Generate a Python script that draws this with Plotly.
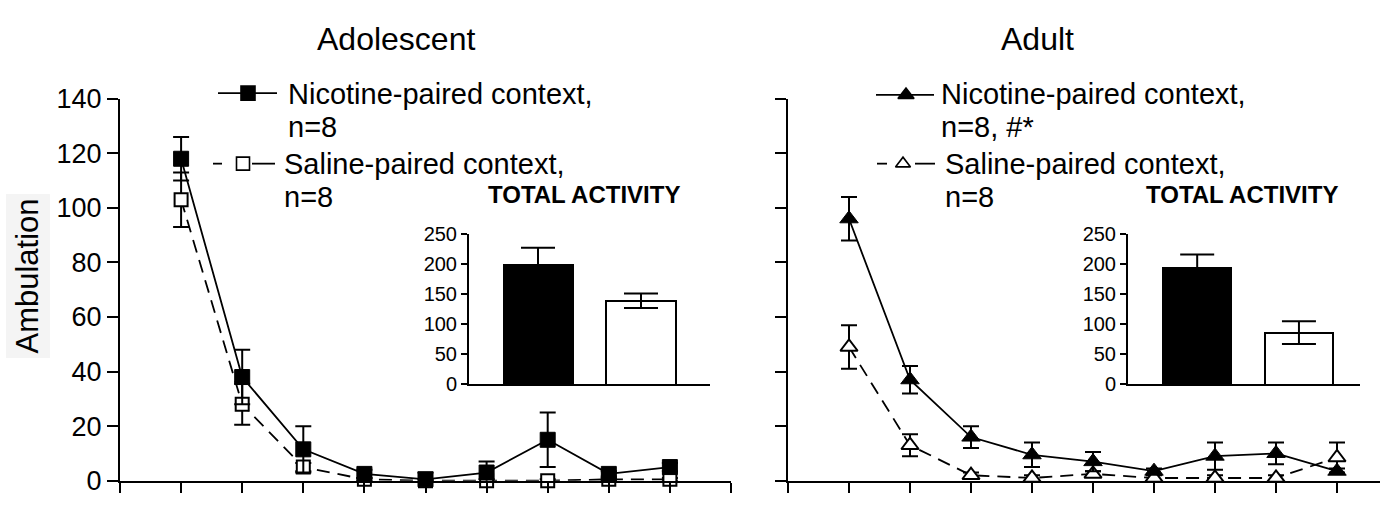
import plotly.graph_objects as go

# ---- data -------------------------------------------------------------
bins = [1, 2, 3, 4, 5, 6, 7, 8, 9]

adol_nic = [118, 38, 11.5, 2.5, 0.5, 3, 15, 2.5, 5]
adol_nic_sem = [8, 10, 8.5, 1.5, 2.5, 4, 10, 1, 1.5]
adol_sal = [103, 28, 5, 0.5, 0, 0, 0, 0.5, 0.5]
adol_sal_sem = [10, 7.5, 1.5, 0.5, 0.5, 0.5, 0.5, 0.5, 0.5]

adult_nic = [96, 37, 16, 9.5, 7, 3.5, 9, 10, 3.5]
adult_nic_sem = [8, 5, 4, 4.5, 3.5, 1, 5, 4, 1]
adult_sal = [49, 13, 2, 1, 2.5, 1, 1, 1, 8.5]
adult_sal_sem = [8, 4, 1, 1, 1, 1, 1, 1, 5.5]

groups = [0, 1]
adol_total = [198, 139]
adol_total_sem = [29, 12]
adult_total = [193, 86]
adult_total_sem = [23, 19]

y_ticks = [0, 20, 40, 60, 80, 100, 120, 140]
inset_ticks = [0, 50, 100, 150, 200, 250]

# ---- geometry helpers -------------------------------------------------
W, H = 1380, 507
FONT = "Liberation Sans, Arial, sans-serif"


def fx(px):
    return px / W


def fy(py):
    return 1 - py / H


fig = go.Figure()

err = dict(type="data", visible=True, color="black", thickness=2, width=8)
dash_pat = "13px,8px"


def line_pair(xa, ya, nic, nic_sem, sal, sal_sem, filled, hollow):
    fig.add_trace(go.Scatter(
        x=bins, y=sal, xaxis=xa, yaxis=ya, mode="lines+markers",
        line=dict(color="black", width=1.8, dash=dash_pat),
        marker=dict(symbol=hollow[0], size=hollow[1], color="white",
                    line=dict(color="black", width=2)),
        error_y=dict(array=sal_sem, **err),
        cliponaxis=False, showlegend=False, hoverinfo="skip"))
    fig.add_trace(go.Scatter(
        x=bins, y=nic, xaxis=xa, yaxis=ya, mode="lines+markers",
        line=dict(color="black", width=1.8),
        marker=dict(symbol=filled[0], size=filled[1], color="black",
                    line=dict(color="black", width=1)),
        error_y=dict(array=nic_sem, **err),
        cliponaxis=False, showlegend=False, hoverinfo="skip"))


line_pair("x", "y", adol_nic, adol_nic_sem, adol_sal, adol_sal_sem,
          ("square", 15), ("square", 13))
line_pair("x2", "y2", adult_nic, adult_nic_sem, adult_sal, adult_sal_sem,
          ("triangle-up", 16), ("triangle-up", 15))


def inset_bars(xa, ya, vals, sems):
    fig.add_trace(go.Bar(
        x=groups, y=vals, xaxis=xa, yaxis=ya, width=0.67,
        marker=dict(color=["black", "white"], line=dict(color="black", width=2)),
        error_y=dict(type="data", array=sems, visible=True, color="black",
                     thickness=2, width=17),
        showlegend=False, hoverinfo="skip"))


inset_bars("x3", "y3", adol_total, adol_total_sem)
inset_bars("x4", "y4", adult_total, adult_total_sem)

# ---- hand-drawn legend keys (pixel overlay) -------------------------
keys = [
    # (segments, y, marker_x, symbol, fill, size)
    ([(218, 277)], 83, 248, "square", "black", 14),
    ([(213, 222), (252, 275)], 158, 243, "square", "white", 13),
    ([(876, 934)], 85, 906, "triangle-up", "black", 14),
    ([(877, 887), (915, 935)], 158, 903, "triangle-up", "white", 13),
]
for segs, ky, mx, sym, fill, msz in keys:
    xs, ys = [], []
    for a, b in segs:
        xs += [a, b, None]
        ys += [ky, ky, None]
    fig.add_trace(go.Scatter(x=xs, y=ys, xaxis="x5", yaxis="y5", mode="lines",
                             line=dict(color="black", width=1.8),
                             showlegend=False, hoverinfo="skip", cliponaxis=False))
    fig.add_trace(go.Scatter(x=[mx], y=[ky], xaxis="x5", yaxis="y5", mode="markers",
                             marker=dict(symbol=sym, size=msz, color=fill,
                                         line=dict(color="black", width=1.6)),
                             showlegend=False, hoverinfo="skip", cliponaxis=False))

# ---- axes --------------------------------------------------------------
main_y_dom = [fy(495), fy(89)]
inset_y_dom = [fy(392.7), fy(232.7)]

axis_common = dict(showline=True, linecolor="black", linewidth=2, ticks="outside",
                   tickcolor="black", tickwidth=2, showgrid=False, zeroline=False,
                   mirror=False)

layout = dict(
    width=W, height=H, margin=dict(l=0, r=0, t=0, b=0),
    paper_bgcolor="white", plot_bgcolor="rgba(0,0,0,0)",
    font=dict(family=FONT, color="black"),
    bargap=0,
    xaxis=dict(domain=[fx(120), fx(731)], range=[0, 10], tickvals=list(range(11)),
               showticklabels=False, ticklen=10, anchor="y", **axis_common),
    yaxis=dict(domain=main_y_dom, range=[0, 140], tickvals=y_ticks, ticklen=11,
               tickfont=dict(size=27), anchor="x", **axis_common),
    xaxis2=dict(domain=[fx(788), 1.0], range=[0, 592 / 61], tickvals=list(range(10)),
                showticklabels=False, ticklen=10, anchor="y2", **axis_common),
    yaxis2=dict(domain=main_y_dom, range=[0, 140], tickvals=y_ticks, ticklen=11,
                showticklabels=False, anchor="x2", **axis_common),
    xaxis3=dict(domain=[fx(469), fx(710)], range=[-0.67, 1.67], tickvals=[],
                showticklabels=False, anchor="y3", showline=True, linecolor="black",
                linewidth=2, showgrid=False, zeroline=False),
    yaxis3=dict(domain=inset_y_dom, range=[0, 250], tickvals=inset_ticks, ticklen=6,
                tickfont=dict(size=20), anchor="x3", **axis_common),
    xaxis4=dict(domain=[fx(1128), fx(1360)], range=[-0.68, 1.6], tickvals=[],
                showticklabels=False, anchor="y4", showline=True, linecolor="black",
                linewidth=2, showgrid=False, zeroline=False),
    yaxis4=dict(domain=inset_y_dom, range=[0, 250], tickvals=inset_ticks, ticklen=6,
                tickfont=dict(size=20), anchor="x4", **axis_common),
    xaxis5=dict(domain=[0, 1], range=[0, W], visible=False, fixedrange=True, anchor="y5"),
    yaxis5=dict(domain=[0, 1], range=[H, 0], visible=False, fixedrange=True, anchor="x5"),
)
fig.update_layout(**layout)


def ann(text, x, y, size, anchor="left", bold=False, **kw):
    t = f"<b>{text}</b>" if bold else text
    return dict(text=t, x=fx(x), y=fy(y), xref="paper", yref="paper",
                showarrow=False, xanchor=anchor, yanchor="middle",
                font=dict(family=FONT, size=size, color="black"), **kw)


annotations = [
    ann("Adolescent", 396, 26, 32, anchor="center"),
    ann("Adult", 1037, 26, 32, anchor="center"),
    ann("Nicotine-paired context,", 286, 84, 29),
    ann("n=8", 286, 119, 29),
    ann("Saline-paired context,", 282, 158, 29),
    ann("n=8", 282, 193, 29),
    ann("Nicotine-paired context,", 939, 84, 29),
    ann("n=8, #*", 939, 119, 29),
    ann("Saline-paired context,", 943, 158, 29),
    ann("n=8", 943, 193, 29),
    ann("TOTAL ACTIVITY", 584, 191, 24, anchor="center", bold=True),
    ann("TOTAL ACTIVITY", 1242, 191, 24, anchor="center", bold=True),
    ann("Ambulation", 28, 278, 31, anchor="center", textangle=-90,
        bgcolor="#f4f4f4", borderpad=4),
]
fig.update_layout(annotations=annotations)

fig.write_html("out.html")
